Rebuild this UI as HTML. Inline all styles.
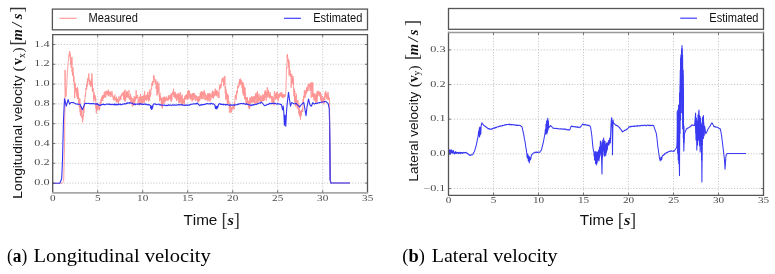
<!DOCTYPE html><html><head><meta charset="utf-8"><style>html,body{margin:0;padding:0;background:#fff;width:775px;height:274px;overflow:hidden}svg{display:block;will-change:transform}text{font-family:"Liberation Sans",sans-serif;font-kerning:none}.sf{font-family:"Liberation Serif",serif}</style></head><body>
<svg width="775" height="274" viewBox="0 0 775 274">
<line x1="97.7" y1="34.7" x2="97.7" y2="192.7" stroke="#b0b0b0" stroke-width="0.8" stroke-dasharray="1 1.8" fill="none"/>
<line x1="142.7" y1="34.7" x2="142.7" y2="192.7" stroke="#b0b0b0" stroke-width="0.8" stroke-dasharray="1 1.8" fill="none"/>
<line x1="187.7" y1="34.7" x2="187.7" y2="192.7" stroke="#b0b0b0" stroke-width="0.8" stroke-dasharray="1 1.8" fill="none"/>
<line x1="232.7" y1="34.7" x2="232.7" y2="192.7" stroke="#b0b0b0" stroke-width="0.8" stroke-dasharray="1 1.8" fill="none"/>
<line x1="277.7" y1="34.7" x2="277.7" y2="192.7" stroke="#b0b0b0" stroke-width="0.8" stroke-dasharray="1 1.8" fill="none"/>
<line x1="322.7" y1="34.7" x2="322.7" y2="192.7" stroke="#b0b0b0" stroke-width="0.8" stroke-dasharray="1 1.8" fill="none"/>
<line x1="52.7" y1="183.07" x2="367.5" y2="183.07" stroke="#b0b0b0" stroke-width="0.8" stroke-dasharray="1 1.8" fill="none"/>
<line x1="52.7" y1="163.27" x2="367.5" y2="163.27" stroke="#b0b0b0" stroke-width="0.8" stroke-dasharray="1 1.8" fill="none"/>
<line x1="52.7" y1="143.47" x2="367.5" y2="143.47" stroke="#b0b0b0" stroke-width="0.8" stroke-dasharray="1 1.8" fill="none"/>
<line x1="52.7" y1="123.67" x2="367.5" y2="123.67" stroke="#b0b0b0" stroke-width="0.8" stroke-dasharray="1 1.8" fill="none"/>
<line x1="52.7" y1="103.87" x2="367.5" y2="103.87" stroke="#b0b0b0" stroke-width="0.8" stroke-dasharray="1 1.8" fill="none"/>
<line x1="52.7" y1="84.07" x2="367.5" y2="84.07" stroke="#b0b0b0" stroke-width="0.8" stroke-dasharray="1 1.8" fill="none"/>
<line x1="52.7" y1="64.27" x2="367.5" y2="64.27" stroke="#b0b0b0" stroke-width="0.8" stroke-dasharray="1 1.8" fill="none"/>
<line x1="52.7" y1="44.47" x2="367.5" y2="44.47" stroke="#b0b0b0" stroke-width="0.8" stroke-dasharray="1 1.8" fill="none"/>
<line x1="493.5" y1="32.45" x2="493.5" y2="195.3" stroke="#b0b0b0" stroke-width="0.8" stroke-dasharray="1 1.8" fill="none"/>
<line x1="538.5" y1="32.45" x2="538.5" y2="195.3" stroke="#b0b0b0" stroke-width="0.8" stroke-dasharray="1 1.8" fill="none"/>
<line x1="583.5" y1="32.45" x2="583.5" y2="195.3" stroke="#b0b0b0" stroke-width="0.8" stroke-dasharray="1 1.8" fill="none"/>
<line x1="628.5" y1="32.45" x2="628.5" y2="195.3" stroke="#b0b0b0" stroke-width="0.8" stroke-dasharray="1 1.8" fill="none"/>
<line x1="673.5" y1="32.45" x2="673.5" y2="195.3" stroke="#b0b0b0" stroke-width="0.8" stroke-dasharray="1 1.8" fill="none"/>
<line x1="718.5" y1="32.45" x2="718.5" y2="195.3" stroke="#b0b0b0" stroke-width="0.8" stroke-dasharray="1 1.8" fill="none"/>
<line x1="448.5" y1="188.5" x2="763.5" y2="188.5" stroke="#b0b0b0" stroke-width="0.8" stroke-dasharray="1 1.8" fill="none"/>
<line x1="448.5" y1="153.85" x2="763.5" y2="153.85" stroke="#b0b0b0" stroke-width="0.8" stroke-dasharray="1 1.8" fill="none"/>
<line x1="448.5" y1="119.2" x2="763.5" y2="119.2" stroke="#b0b0b0" stroke-width="0.8" stroke-dasharray="1 1.8" fill="none"/>
<line x1="448.5" y1="84.55" x2="763.5" y2="84.55" stroke="#b0b0b0" stroke-width="0.8" stroke-dasharray="1 1.8" fill="none"/>
<line x1="448.5" y1="49.9" x2="763.5" y2="49.9" stroke="#b0b0b0" stroke-width="0.8" stroke-dasharray="1 1.8" fill="none"/>
<polyline points="52.7,183.3 52.85,183.3 53,183.3 53.15,183.3 53.3,183.3 53.45,183.3 53.6,183.3 53.75,183.3 53.9,183.3 54.05,183.3 54.2,183.3 54.35,183.3 54.5,183.3 54.65,183.3 54.8,183.3 54.95,183.3 55.1,183.3 55.25,183.3 55.4,183.3 55.55,183.3 55.7,183.3 55.85,183.3 56,183.3 56.15,183.3 56.3,183.3 56.45,183.3 56.6,183.3 56.75,183.3 56.9,183.3 57.05,183.3 57.2,183.3 57.35,183.3 57.5,183.3 57.65,183.3 57.8,183.3 57.95,183.3 58.1,183.3 58.25,183.3 58.4,183.3 58.55,183.3 58.7,183.3 58.85,183.3 59,183.3 59.15,183.3 59.3,183.3 59.45,183.3 59.6,183.3 59.75,183.3 59.9,183.3 60.05,183.3 60.2,183.3 60.35,183.3 60.5,183.3 60.65,183.3 60.8,183.3 60.95,183.3 61.1,183.3 61.25,183.3 61.4,183.3 61.55,183.3 61.7,183.3 61.85,183.3 62,183.3 62.15,183.3 62.3,183.3 62.46,183.04 62.61,182.79 62.77,182.53 62.92,182.28 63.08,182.02 63.23,181.77 63.39,181.51 63.54,181.26 63.7,181 63.85,174.17 64,167.33 64.15,160.5 64.3,153.67 64.45,146.83 64.6,140 64.73,126.67 64.87,113.33 65,100 65.05,70 65.2,85 65.35,88 65.5,91 65.65,94 65.8,97 65.97,96.67 66.13,96.33 66.3,96 66.45,92.37 66.6,88.92 66.75,85.56 66.9,82.13 67.05,78.73 67.2,76.96 67.36,71.95 67.51,70.86 67.67,69.24 67.83,65.9 67.99,65.64 68.14,62.85 68.3,61.59 68.44,59.42 68.59,59.22 68.73,56.36 68.88,56.69 69.02,54.45 69.17,55.32 69.31,53.96 69.46,51.18 69.6,52.44 69.75,51.6 69.9,54.28 70.05,56.6 70.2,53.44 70.35,60.35 70.5,56.75 70.64,64.3 70.79,57.8 70.93,61.78 71.07,67.19 71.21,67.78 71.36,66.17 71.5,64.72 71.65,60.21 71.79,65.21 71.94,56.94 72.08,71.57 72.23,68.28 72.37,73.07 72.52,70.12 72.66,75.99 72.81,73.83 72.95,67.23 73.1,75.34 73.25,75.14 73.41,72.74 73.56,74.39 73.72,82.11 73.87,76.33 74.03,79.19 74.18,80.01 74.34,85.72 74.49,82.87 74.65,98.1 74.8,92.98 74.95,89.54 75.11,84.28 75.26,84.21 75.42,82.89 75.57,89.94 75.73,89.5 75.88,88.23 76.04,92.57 76.19,89.47 76.35,89.2 76.5,93.76 76.65,88.27 76.79,89.2 76.94,96.47 77.08,93.45 77.23,93.72 77.38,98.85 77.52,87.13 77.67,94.15 77.82,88.72 77.96,98.49 78.11,95.44 78.25,97.5 78.4,93.41 78.55,96.81 78.69,99.45 78.84,104.81 78.98,97.87 79.13,106.73 79.27,100.79 79.42,103.93 79.56,103.45 79.71,107.91 79.85,98.55 80,110 80.15,112.41 80.31,104.89 80.46,115.7 80.62,106 80.77,112.33 80.93,106.32 81.08,109.64 81.24,112.92 81.39,110.58 81.55,117.6 81.7,110.99 81.86,108.42 82.01,115.96 82.17,117.23 82.33,116.23 82.49,122.23 82.64,122.32 82.8,117.84 82.95,119.4 83.09,114.18 83.24,115.83 83.39,116.75 83.53,113.35 83.68,105.63 83.83,113.21 83.97,109 84.12,106.54 84.27,107.15 84.41,100.18 84.56,102.59 84.71,100.94 84.85,99.27 85,98.42 85.15,96.14 85.3,94.81 85.45,96.39 85.6,92.91 85.75,93.54 85.9,88.17 86.05,89.02 86.2,89.6 86.35,89.77 86.5,84.86 86.65,89.2 86.8,84.16 86.95,86.82 87.1,83.4 87.25,81.33 87.4,82.67 87.55,81.66 87.7,84.9 87.85,78.25 88,81.35 88.15,79.1 88.3,80.41 88.45,77.03 88.6,75.18 88.75,73.49 88.9,74.37 89.05,77.78 89.2,79.93 89.35,79.86 89.5,81.23 89.65,82.89 89.8,84.99 89.95,80.41 90.1,80.7 90.25,82.74 90.4,81.26 90.56,85.3 90.71,86.95 90.87,84.45 91.03,85.91 91.19,81.19 91.34,78.17 91.5,78.08 91.65,79.86 91.79,85.16 91.94,73.41 92.09,83.61 92.23,88 92.38,91.12 92.53,82.92 92.67,87.76 92.82,90.74 92.97,92.22 93.11,88.01 93.26,92.73 93.41,92.69 93.55,96.38 93.7,94.56 93.85,101.49 93.99,94.09 94.14,92.44 94.29,96.71 94.43,99.17 94.58,94.95 94.73,98.66 94.87,97.48 95.02,96.55 95.17,95.48 95.31,97.72 95.46,97.1 95.61,100.61 95.75,97.96 95.9,108.37 96.05,105.02 96.2,108.2 96.35,113.26 96.5,103.72 96.65,105.18 96.8,108.46 96.95,109.4 97.1,106.56 97.25,103.07 97.4,110.14 97.55,108.67 97.7,105.19 97.85,108.07 98,108.17 98.16,106.01 98.31,107.99 98.47,105.59 98.62,109.08 98.78,106.01 98.93,105.86 99.09,110.45 99.24,108.6 99.4,109.54 99.55,107.77 99.69,109.03 99.84,103.84 99.99,103.95 100.13,102.17 100.28,101.89 100.43,105.43 100.57,103.89 100.72,104.9 100.87,103.86 101.01,99.31 101.16,102.25 101.31,102.4 101.45,98.13 101.6,99.43 101.75,100.25 101.89,100.56 102.04,96.72 102.19,98.54 102.33,95.86 102.48,100.82 102.63,97.94 102.77,100.9 102.92,94.99 103.07,98.5 103.21,97.17 103.36,95.24 103.51,97.94 103.65,97.5 103.8,95.32 103.95,96.81 104.09,95.24 104.24,92.25 104.39,95.56 104.53,96.99 104.68,94.42 104.83,97.19 104.97,97.73 105.12,91.15 105.27,91.73 105.41,93.07 105.56,93.28 105.71,97.54 105.85,94.07 106,94.03 106.15,91.89 106.3,93.79 106.45,92.65 106.6,92.8 106.75,90.68 106.9,93.79 107.05,95.18 107.2,95.32 107.35,91.5 107.5,92.71 107.65,93.03 107.8,91.21 107.95,94.22 108.1,94.47 108.26,91.88 108.41,89.72 108.57,96.2 108.72,91.74 108.88,92.82 109.03,93.53 109.19,93.64 109.34,94.63 109.5,92.37 109.65,94.01 109.81,91.45 109.96,95.09 110.11,96.59 110.27,92.56 110.42,91.87 110.57,93.75 110.73,94.71 110.88,96.92 111.03,94.32 111.19,94.98 111.34,94.06 111.49,94.01 111.65,92.76 111.8,93.2 111.95,91.11 112.1,95.37 112.25,93.85 112.4,95.46 112.55,97.07 112.7,96.64 112.85,95.63 113,96.89 113.15,96.43 113.3,100.02 113.45,97.72 113.6,99.38 113.75,97.68 113.9,97.34 114.05,100.52 114.2,97.81 114.35,98.67 114.5,98.12 114.65,95.58 114.8,94.67 114.95,95.2 115.1,98.72 115.25,100 115.4,99.13 115.55,100.3 115.7,100.15 115.85,98.09 116,100.13 116.15,100.74 116.29,101.97 116.44,96.81 116.59,98.73 116.73,100.08 116.88,102.29 117.03,100.66 117.17,101.69 117.32,98.45 117.47,100.6 117.61,101.32 117.76,100.11 117.91,100.91 118.05,100.89 118.2,102.53 118.35,101.05 118.5,104 118.65,101.9 118.8,98.41 118.96,96.24 119.11,101.15 119.27,99.39 119.42,99.39 119.58,99.57 119.73,99.07 119.89,100.36 120.04,99.34 120.2,97.02 120.35,97.89 120.5,98.8 120.65,95.73 120.8,99.85 120.95,98.02 121.1,97.01 121.25,95.91 121.4,94.46 121.55,96.04 121.7,94.01 121.85,93.8 122,94.28 122.15,94.19 122.3,93.02 122.45,93.53 122.6,92.66 122.75,95.49 122.9,94.2 123.05,95.04 123.2,93.19 123.35,96.6 123.5,92.11 123.66,99.66 123.81,96.03 123.97,95.15 124.13,94.23 124.29,90.83 124.44,98.09 124.6,93.89 124.75,100.9 124.9,92.4 125.05,89.8 125.2,101.62 125.34,98 125.49,95.33 125.64,95.48 125.79,99.41 125.94,95.8 126.09,93.81 126.24,95.44 126.39,91.28 126.53,94.18 126.68,96.96 126.83,94.52 126.98,91.17 127.13,97.52 127.28,93.68 127.43,92.23 127.58,96.06 127.73,96.5 127.87,93.69 128.02,96.7 128.17,93.72 128.32,97.53 128.47,96.4 128.62,96.85 128.77,96.82 128.92,90.13 129.07,98.61 129.21,99.41 129.36,97.58 129.51,96.83 129.66,98.15 129.81,96.34 129.96,99.41 130.11,97.68 130.26,98.56 130.4,95.68 130.55,93.85 130.7,101.34 130.85,102.29 131,100.79 131.15,96.67 131.3,102.86 131.45,100.79 131.6,97.99 131.75,102.92 131.9,101.03 132.05,101.76 132.2,104.3 132.35,106.44 132.49,101.69 132.64,104.25 132.79,98.14 132.94,104.32 133.08,100.13 133.23,102.25 133.38,105.39 133.53,100.64 133.67,99.37 133.82,100.47 133.97,102.1 134.12,100.65 134.26,96.2 134.41,100.59 134.56,102.5 134.71,104.72 134.85,100.63 135,97.57 135.14,101.1 135.29,97.9 135.43,99.04 135.57,99.37 135.71,97.11 135.86,97.61 136,95.27 136.15,90.4 136.3,98.31 136.45,96.76 136.6,95.58 136.75,98.71 136.9,97.61 137.05,97 137.2,97.32 137.35,95.74 137.51,96.08 137.66,95.15 137.81,97.66 137.96,99.03 138.11,104.72 138.26,100.24 138.41,100.12 138.56,100.48 138.71,99.5 138.86,99.09 139.01,98.8 139.16,96.96 139.31,105.5 139.46,97.91 139.61,100.99 139.76,97.43 139.91,100.71 140.06,99 140.22,96.32 140.37,97.86 140.52,93.94 140.67,97.42 140.82,103.53 140.97,95.96 141.12,99.72 141.27,96.97 141.42,105.02 141.57,100.19 141.72,98.56 141.87,98.96 142.02,103.1 142.17,98.53 142.32,101.81 142.47,100.5 142.62,95.92 142.77,96.31 142.92,96.34 143.08,99.81 143.23,103.09 143.38,96.24 143.53,100.01 143.68,96.82 143.83,96.78 143.98,94.72 144.13,99.77 144.28,96.13 144.43,102.49 144.58,91.11 144.73,95.96 144.88,95.92 145.03,97.33 145.18,96.71 145.33,100.03 145.48,96.64 145.63,99.19 145.78,95.6 145.94,96.29 146.09,99.48 146.24,94.67 146.39,100.79 146.54,99.07 146.69,99.08 146.84,98.3 146.99,98.01 147.14,100.04 147.29,97.81 147.44,96.63 147.59,92.19 147.74,93.81 147.89,98.31 148.04,94.87 148.19,99.56 148.34,98.61 148.49,101.32 148.65,98.15 148.8,95.11 148.95,95.89 149.1,96.65 149.25,90.95 149.4,96.15 149.55,100.56 149.7,98.81 149.85,89.36 150,95.97 150.15,96.68 150.3,93.86 150.45,95.32 150.6,92.53 150.75,94.53 150.89,91.31 151.04,90.55 151.18,90.12 151.33,88.82 151.47,88.04 151.62,89.2 151.76,84.52 151.91,84.98 152.05,83.07 152.2,85.07 152.35,83.15 152.51,81.41 152.66,85.86 152.82,83.06 152.97,80.97 153.13,81.16 153.28,82.45 153.44,82.33 153.59,75.48 153.75,77.57 153.9,77.97 154.05,75.62 154.19,77.6 154.34,79.51 154.48,78.62 154.63,80.33 154.77,82.08 154.92,81.8 155.06,81.85 155.21,81.45 155.35,83.98 155.5,80.81 155.66,81.56 155.82,79.46 155.98,82.4 156.14,89 156.3,86.95 156.45,82.66 156.61,85.04 156.76,88.38 156.92,95.33 157.07,92.81 157.23,87.95 157.38,85.57 157.54,94.85 157.69,81.33 157.85,87.98 158,92.78 158.15,86.93 158.29,92.07 158.44,87.92 158.58,88.18 158.73,91.62 158.87,83.42 159.02,91.88 159.16,95.65 159.31,97.01 159.45,94.44 159.6,101.27 159.75,95.62 159.91,92.67 160.06,93.87 160.22,96.93 160.37,95.98 160.53,99.73 160.68,99.94 160.84,100.27 160.99,97.6 161.15,99.48 161.3,105.92 161.45,97.63 161.6,102.84 161.75,101.44 161.9,106.85 162.05,106.35 162.2,100.83 162.35,108.55 162.5,99.3 162.65,100.78 162.8,102.97 162.95,97.97 163.1,100.43 163.25,96.95 163.4,103.82 163.55,101.47 163.7,100.34 163.85,99.33 163.99,103.58 164.14,97.43 164.29,96.49 164.44,101.69 164.58,97.71 164.73,97.76 164.88,97.42 165.02,97.45 165.17,102.13 165.32,97.46 165.46,100.54 165.61,99.01 165.76,98.95 165.91,99.83 166.05,97.95 166.2,100.14 166.35,98.84 166.5,97.67 166.66,96.87 166.81,96.53 166.96,100.65 167.11,99.59 167.26,100.35 167.41,97.99 167.57,99.51 167.72,98.45 167.87,99.96 168.02,98.38 168.17,100.64 168.33,99.94 168.48,96.33 168.63,99.08 168.78,95.34 168.93,98.69 169.09,97.01 169.24,97.83 169.39,95.5 169.54,96.76 169.69,98.39 169.84,96.99 170,96.61 170.15,99.69 170.3,97.8 170.44,95.3 170.58,100.17 170.72,97.96 170.86,98.37 171,93.69 171.15,101.97 171.3,101.42 171.45,95.64 171.6,94.24 171.75,94.25 171.9,100.01 172.05,92.99 172.2,93.6 172.35,94.76 172.51,93.8 172.66,91.7 172.81,93.97 172.96,92.26 173.11,92.99 173.26,94.84 173.41,92.26 173.56,88.7 173.71,92.41 173.86,97.05 174.01,95.71 174.16,95.53 174.31,94.9 174.46,91.85 174.61,97.6 174.76,91.98 174.91,95.65 175.06,94.58 175.22,92.81 175.37,92.27 175.52,98.22 175.67,94.26 175.82,96.14 175.97,95.58 176.12,99.17 176.27,95.93 176.42,96.23 176.57,95.15 176.72,101.08 176.87,94.81 177.02,96.3 177.17,93.65 177.32,99.38 177.47,96.07 177.62,97.82 177.77,96.18 177.92,95.55 178.08,94.49 178.23,98.83 178.38,93.23 178.53,98.96 178.68,99.15 178.83,102.88 178.98,99.32 179.13,98.03 179.28,101.27 179.43,101.69 179.58,102.31 179.73,94.04 179.88,99.1 180.03,102.82 180.18,92.05 180.33,99.63 180.48,99.15 180.63,96.3 180.78,97.74 180.94,99.8 181.09,99.57 181.24,104.4 181.39,97.92 181.54,100.75 181.69,96.58 181.84,98.28 181.99,102.39 182.14,94.45 182.29,102.14 182.44,100.85 182.59,105.25 182.74,99.22 182.89,102.58 183.04,101.77 183.19,100.35 183.34,103.37 183.49,102.69 183.65,99.77 183.8,102.31 183.95,98.26 184.1,98.32 184.25,98.2 184.4,104.63 184.55,99.78 184.7,97.72 184.85,99.09 185,95.89 185.14,98.85 185.29,98.02 185.43,95.33 185.57,98.76 185.71,98.97 185.86,95.94 186,99.71 186.15,96.33 186.3,98.25 186.45,94.19 186.6,96.6 186.75,95.76 186.9,95.1 187.05,96.58 187.2,94.94 187.35,97.7 187.5,96.89 187.65,100.02 187.8,91.28 187.95,97.75 188.1,97.11 188.25,97.38 188.4,90.07 188.55,94.99 188.7,95.94 188.85,98.99 189,97.43 189.15,97.08 189.3,96.24 189.45,90.7 189.6,94.99 189.75,95.57 189.9,93.25 190.05,97.75 190.2,96.65 190.35,97.68 190.5,99.39 190.65,94.82 190.8,98.21 190.95,96.48 191.1,93.75 191.25,97.27 191.4,98.82 191.55,95.57 191.7,99.25 191.85,95.59 192,100.65 192.15,101.56 192.3,99.64 192.45,93.28 192.6,100.3 192.75,98.52 192.9,98.16 193.05,99.63 193.2,95.76 193.35,94.58 193.5,95.11 193.65,92.92 193.8,96.62 193.95,95.54 194.1,100.04 194.25,93.23 194.4,97.12 194.55,97.58 194.7,97.97 194.85,96.18 195,97.5 195.14,94.85 195.29,96.09 195.43,97.24 195.57,97.28 195.71,101 195.86,98.49 196,95.54 196.15,95.69 196.3,96.31 196.44,97.59 196.59,96.37 196.74,99.93 196.89,98.78 197.04,97.64 197.19,96.65 197.33,97.63 197.48,101.78 197.63,99.7 197.78,100.09 197.93,100.07 198.07,100.31 198.22,96.31 198.37,98.45 198.52,98.42 198.67,102.27 198.81,98.04 198.96,99.53 199.11,100.81 199.26,98.79 199.41,97.75 199.56,100.8 199.7,95.92 199.85,100.05 200,98.53 200.14,95.19 200.29,92.82 200.43,96 200.57,93.82 200.71,96.62 200.86,92.31 201,94.94 201.15,98.91 201.3,91.43 201.45,93.41 201.6,98.75 201.75,91.78 201.9,94.9 202.05,92.93 202.2,99.18 202.35,93.91 202.51,92.58 202.66,92.52 202.81,95.43 202.96,91.63 203.11,93.25 203.26,92.5 203.41,92.71 203.56,91.96 203.71,99.04 203.86,92.15 204.01,94.35 204.16,90.24 204.31,94.54 204.46,91.87 204.61,91.76 204.76,97.49 204.91,99.91 205.06,100.22 205.22,93.33 205.37,94.79 205.52,95.28 205.67,95.06 205.82,100.27 205.97,99.91 206.12,99.23 206.27,95.5 206.42,96.55 206.57,98.38 206.72,98.93 206.87,97.96 207.02,95.15 207.17,95.99 207.32,100.01 207.47,94.08 207.62,93.34 207.77,101.41 207.92,96.97 208.08,95.27 208.23,98.44 208.38,98.58 208.53,93.5 208.68,100.4 208.83,94.74 208.98,94.35 209.13,96.84 209.28,95.95 209.43,95.9 209.58,92.98 209.73,98.9 209.88,101.71 210.03,96.33 210.18,94.1 210.33,95.7 210.48,96.59 210.63,93.96 210.78,100.11 210.94,97.17 211.09,96.83 211.24,96.53 211.39,97.16 211.54,95.76 211.69,94.84 211.84,96.67 211.99,92.36 212.14,93.67 212.29,93.02 212.44,97.87 212.59,90.52 212.74,97.36 212.89,91.17 213.04,95.15 213.19,93.59 213.34,98.6 213.49,98.31 213.65,94.96 213.8,92.51 213.95,94.03 214.1,95.75 214.25,95.39 214.4,91.54 214.55,93.58 214.7,96.26 214.85,93.02 215,92.57 215.14,94.51 215.29,88.62 215.43,92.29 215.57,91.44 215.71,95.26 215.86,90.3 216,92.76 216.15,93.49 216.3,91.44 216.45,96.18 216.6,95.43 216.75,90 216.9,93.12 217.05,94.52 217.2,92.91 217.35,91.41 217.5,92.66 217.65,92.55 217.8,94.6 217.95,97.67 218.1,97.49 218.25,94.74 218.4,95.68 218.55,92.39 218.7,93.75 218.85,95.04 219,97.81 219.15,90.81 219.3,89.21 219.45,86.5 219.6,89.41 219.75,87.26 219.9,85.75 220.05,88.47 220.2,84.19 220.35,86.21 220.5,84.36 220.65,84.9 220.8,88.25 220.95,84.72 221.1,85.79 221.25,85.35 221.4,85.01 221.55,82.75 221.7,80.34 221.85,80.6 222,79.23 222.15,79.53 222.3,78.56 222.45,79.85 222.6,77.82 222.75,80.24 222.9,81.74 223.05,79.23 223.2,80.59 223.35,82.46 223.5,83.85 223.65,86.07 223.8,78.47 223.95,77.18 224.1,82.68 224.25,83.27 224.4,82.47 224.55,84.77 224.7,84.34 224.85,75.89 225,87.87 225.15,87.47 225.29,93.64 225.44,90.46 225.58,86.6 225.73,99.83 225.88,89.02 226.02,93.52 226.17,93.74 226.32,94.34 226.46,91.58 226.61,98.28 226.75,98.31 226.9,94.24 227.05,96.94 227.2,100.53 227.35,103.8 227.5,93.76 227.65,104.77 227.8,103.49 227.95,100.28 228.1,102.78 228.25,95.19 228.4,98.93 228.55,99.27 228.7,103.7 228.85,101 229,103.54 229.15,106.53 229.3,109.27 229.45,112.53 229.6,110.89 229.75,110.89 229.9,105.91 230.05,107.8 230.2,103.47 230.35,107.61 230.5,106.95 230.65,106.81 230.79,110.12 230.94,112.89 231.08,108.49 231.23,109.9 231.38,111.84 231.52,107.09 231.67,107.68 231.82,108.24 231.96,109.94 232.11,108.61 232.25,107.2 232.4,108.88 232.55,107.04 232.7,108.17 232.85,106.2 233,108.43 233.15,108.41 233.3,106.8 233.45,107.43 233.6,107.59 233.75,106.85 233.9,105.35 234.05,109.52 234.2,105.92 234.35,104.06 234.5,102.36 234.65,105.61 234.8,100.73 234.95,99.99 235.1,96.61 235.25,96.85 235.4,96.14 235.55,95.11 235.7,94.76 235.85,97.66 236,95.3 236.15,99.72 236.29,95.08 236.44,93.81 236.59,91.17 236.74,94.54 236.88,93.47 237.03,90.79 237.18,91.72 237.33,92.93 237.47,89.94 237.62,86.28 237.77,86.18 237.92,85.43 238.06,85.62 238.21,88.16 238.36,87.15 238.51,87.23 238.65,85.51 238.8,86.56 238.95,85.3 239.1,81.82 239.25,83.66 239.4,84.17 239.55,79.05 239.7,85.2 239.85,84.02 240,83.77 240.15,81.98 240.3,81.72 240.45,79.97 240.6,78.68 240.75,81.76 240.9,84.85 241.05,80.11 241.2,82.5 241.35,83.93 241.5,80.96 241.65,80.65 241.8,83.26 241.95,84.64 242.1,88.17 242.25,82.23 242.4,84.42 242.55,90.83 242.7,91.41 242.85,92.78 243,82.33 243.15,93.85 243.3,88.98 243.45,95.46 243.61,84.15 243.76,84.88 243.92,88.65 244.07,95.03 244.23,86.88 244.38,95.19 244.54,99.15 244.69,91.23 244.85,90.89 245,87.75 245.14,95.24 245.29,92.17 245.43,98.6 245.57,95.58 245.71,99.68 245.86,98.85 246,104.21 246.15,100.61 246.3,97.56 246.45,99.49 246.6,98.41 246.75,101.34 246.9,98.8 247.05,100.55 247.2,98.55 247.35,103.14 247.5,97.1 247.65,103.23 247.8,100.68 247.95,103.46 248.1,102.43 248.25,103.08 248.4,107.56 248.55,100.86 248.7,103.04 248.85,102.8 249,100.86 249.15,101.82 249.3,109.22 249.45,103.26 249.6,101.7 249.75,108.15 249.9,97.63 250.05,104.34 250.2,97.98 250.35,102.46 250.5,102.48 250.65,101.73 250.8,103.12 250.95,97.56 251.1,100.98 251.25,100.46 251.4,101.89 251.55,98.27 251.7,96.06 251.85,98.49 252,102.92 252.15,99.33 252.3,101.31 252.45,98.12 252.6,99.53 252.75,96.74 252.9,101.79 253.05,100.08 253.2,97.73 253.35,99.64 253.5,99.3 253.65,102.34 253.8,96.57 253.95,102.04 254.1,102.38 254.25,95.9 254.4,96.72 254.55,99.93 254.7,104.28 254.85,97.38 255,103.53 255.14,100.55 255.29,97.14 255.43,97.88 255.57,93.49 255.71,96.06 255.86,98.44 256,93.5 256.15,94.62 256.3,94.16 256.45,98.45 256.6,99.7 256.75,103.41 256.9,94.37 257.05,97.68 257.2,91.91 257.35,95.11 257.5,91.09 257.65,104.14 257.8,98.63 257.95,103.15 258.1,95.67 258.25,97.03 258.4,99.91 258.55,97.31 258.7,99.13 258.85,98.56 259,93.69 259.15,101.15 259.3,100.4 259.45,101.14 259.6,100.55 259.75,97.52 259.9,99.84 260.05,98.81 260.2,96.6 260.35,102.09 260.5,102.46 260.65,99.86 260.8,101.95 260.95,95.35 261.1,97.94 261.25,98.22 261.4,97.49 261.55,101.65 261.7,99.96 261.85,96.31 262,98.72 262.15,99.59 262.3,101.32 262.45,99.05 262.6,100.1 262.75,97.28 262.9,94.39 263.05,100.89 263.2,98.11 263.35,95.34 263.5,101.09 263.65,96.37 263.8,101.13 263.95,94.78 264.1,95.2 264.25,99.45 264.4,95.45 264.55,99.84 264.7,92.09 264.85,94.78 265,90.81 265.15,90.3 265.3,90.94 265.45,94.1 265.6,95.66 265.75,97.46 265.9,91.47 266.05,94.65 266.2,100.7 266.35,93.18 266.5,94.52 266.65,92.65 266.8,95.32 266.95,91.74 267.1,97.95 267.25,87.29 267.4,91.29 267.55,92.05 267.7,94.28 267.85,94.42 268,96.04 268.15,90.04 268.3,90.1 268.45,94.77 268.6,90.72 268.75,94.44 268.9,97.33 269.05,95.7 269.2,94.56 269.35,94.58 269.5,98.27 269.65,98.19 269.8,96.91 269.95,91.94 270.1,97.61 270.25,94.57 270.4,98.07 270.55,94.45 270.7,98.08 270.85,96.83 271,96.38 271.15,98.74 271.3,98.87 271.45,98.61 271.6,98.1 271.75,95.88 271.9,102.58 272.05,98.73 272.2,100.79 272.35,98.01 272.5,99.41 272.65,101.03 272.8,96.41 272.95,102.94 273.1,97.55 273.25,103.09 273.4,99.23 273.55,101.66 273.7,98.47 273.85,102.82 274,105.37 274.17,94.59 274.33,93.24 274.5,91 274.67,92.44 274.83,94.45 275,97.73 275.15,94.24 275.29,95.95 275.44,99.98 275.59,93.65 275.74,98.12 275.88,98.89 276.03,95.08 276.18,93.45 276.33,92.39 276.47,96.02 276.62,99.05 276.77,93.9 276.92,95.36 277.06,94.24 277.21,95.07 277.36,92.04 277.51,98.2 277.65,96.86 277.8,96.3 277.95,95.86 278.1,101.44 278.26,94.28 278.41,98.17 278.56,99.24 278.71,96.84 278.87,94.61 279.02,95.07 279.17,97.93 279.32,93.48 279.48,95.04 279.63,93.64 279.78,96.64 279.93,96.46 280.09,95.63 280.24,96.11 280.39,92.8 280.54,95.62 280.7,93.31 280.85,94.79 281,96.22 281.15,93.6 281.29,92.21 281.44,94.86 281.59,96.98 281.74,92.2 281.88,93.4 282.03,97.1 282.18,95.39 282.33,94.14 282.47,96.08 282.62,96.67 282.77,98.12 282.92,97.15 283.06,98.08 283.21,97.28 283.36,94.13 283.51,95.78 283.65,95.94 283.8,94.24 283.95,96.89 284.09,95.61 284.24,94.42 284.38,97.29 284.53,95.49 284.68,94.96 284.82,95.71 284.97,96.08 285.12,96.45 285.26,95.87 285.41,95.14 285.55,96.27 285.7,94.51 285.86,90.6 286.02,85.87 286.18,80.37 286.34,75.37 286.5,69.98 286.64,67.15 286.78,68.7 286.92,63.06 287.06,61.72 287.2,55.12 287.35,57.97 287.5,53.99 287.65,58.96 287.8,61.85 287.95,61.21 288.1,58.71 288.25,59.16 288.4,67.11 288.55,59.93 288.7,59.48 288.85,66.45 289,61.26 289.15,75.41 289.31,65.8 289.46,74.72 289.62,72.04 289.77,71.37 289.92,74.52 290.08,70.14 290.23,76.69 290.38,75.19 290.54,74.48 290.69,76.86 290.85,74.22 291,77.41 291.15,87.72 291.31,81.38 291.46,77.86 291.61,76.17 291.77,73.84 291.92,80.86 292.07,84.22 292.23,79.92 292.38,79.24 292.53,76.38 292.69,78.5 292.84,83.04 292.99,76.17 293.15,84.17 293.3,79.28 293.45,82.54 293.59,92.82 293.74,93.19 293.89,94.21 294.03,96.11 294.18,89.25 294.33,88.75 294.47,94.82 294.62,100.81 294.77,90.93 294.91,100.27 295.06,103.46 295.21,97.34 295.35,100 295.5,96.62 295.65,106.47 295.81,96.29 295.96,101.76 296.12,101.15 296.27,93.69 296.42,106.07 296.58,104.76 296.73,103.22 296.88,100.83 297.04,104.32 297.19,108.42 297.35,108.8 297.5,105.35 297.65,106.57 297.8,100.01 297.95,105.7 298.1,102.73 298.25,108.97 298.4,106.07 298.55,105.81 298.7,108.54 298.85,113.54 299,104.96 299.15,111.81 299.3,115.45 299.45,109.95 299.6,111.7 299.75,113.64 299.9,113.1 300.05,117.17 300.2,114.23 300.35,114.89 300.5,119.6 300.65,110.95 300.8,114.67 300.95,110.86 301.1,113.96 301.25,110.86 301.4,113.22 301.55,115.71 301.7,111.6 301.85,109.84 302,111.68 302.15,110.35 302.3,111.8 302.45,107.82 302.6,110.22 302.75,111.6 302.9,106.88 303.05,98.95 303.2,102.34 303.35,100.95 303.5,101.88 303.65,95.9 303.8,97.73 303.95,98.57 304.1,95.89 304.25,94.83 304.39,90.09 304.54,93.47 304.68,96.84 304.83,96.15 304.98,94.86 305.12,97.6 305.27,94.52 305.42,92.17 305.56,93.66 305.71,94.96 305.85,90.2 306,91.32 306.15,92.71 306.3,93.27 306.46,87.79 306.61,93.36 306.76,90.4 306.91,87.35 307.07,90.61 307.22,90.11 307.37,89.93 307.52,91.43 307.68,89.28 307.83,88.14 307.98,86.09 308.13,90.71 308.29,83.98 308.44,86.22 308.59,87.1 308.74,87.24 308.9,85.88 309.05,83.52 309.2,83.95 309.35,85.12 309.49,84.25 309.64,86.14 309.79,86.14 309.93,88 310.08,90.76 310.23,83.86 310.37,88.37 310.52,82.93 310.67,90.74 310.81,83.86 310.96,82.45 311.11,97.71 311.25,91.69 311.4,88.24 311.55,83.98 311.7,87.51 311.85,86.26 312,89.2 312.15,81.99 312.3,89.59 312.45,96.88 312.6,92.12 312.75,85.98 312.9,83.14 313.05,92.12 313.2,96.82 313.36,92.81 313.52,94.57 313.68,95.03 313.84,98.03 314,96.32 314.15,100.81 314.3,93.46 314.45,100 314.6,98.09 314.75,95 314.9,99.53 315.05,97.27 315.2,97.8 315.35,99.01 315.49,96.36 315.64,94.61 315.79,103.03 315.94,93.69 316.09,99.57 316.24,95.83 316.39,100.68 316.54,95.08 316.69,101.29 316.84,97.5 316.99,102.28 317.14,91.31 317.29,96.55 317.44,91.63 317.59,97.21 317.74,93.89 317.89,93.21 318.04,94.22 318.19,90.77 318.34,93.79 318.48,92.36 318.63,91.98 318.78,91.87 318.93,95.59 319.08,93.86 319.23,95.38 319.38,94.26 319.53,91.71 319.68,93.8 319.83,94.17 319.98,96.76 320.13,95.07 320.28,91.98 320.43,94.21 320.58,99.85 320.73,93.48 320.88,99.56 321.03,94.73 321.18,101.08 321.33,97.17 321.47,97.75 321.62,98.92 321.77,103.21 321.92,95.71 322.07,98.67 322.22,99.22 322.37,101.71 322.52,99.7 322.67,99.69 322.82,98.81 322.97,96.87 323.12,97.32 323.27,101.49 323.42,98.18 323.57,101.04 323.72,101.8 323.87,104.26 324.02,102.76 324.17,102.55 324.32,102.17 324.46,100.38 324.61,96.21 324.76,100.07 324.91,98.73 325.06,92.49 325.21,95.7 325.36,96.51 325.51,92.83 325.66,90.95 325.81,93.07 325.96,96.9 326.11,94.02 326.26,96.41 326.41,94.48 326.56,96.01 326.71,98.68 326.86,92.72 327.01,93.69 327.16,94.91 327.31,96.55 327.45,96.87 327.6,96.36 327.75,97.05 327.9,99.67 328.05,91.98 328.2,99.64 328.35,95.22 328.5,96.01 328.65,100.02 328.8,97.73 328.94,97.73 329.08,97.64 329.22,98.08 329.36,97.81 329.5,99 329.65,119.5 329.8,140 329.93,153.33 330.07,166.67 330.2,180 330.34,180.6 330.48,181.2 330.62,181.8 330.76,182.4 330.9,183 331.05,183 331.2,183 331.35,183 331.5,183 331.65,183 331.8,183 331.95,183 332.1,183 332.25,183 332.4,183 332.55,183 332.7,183 332.84,183 332.99,183 333.14,183 333.29,183 333.44,183 333.59,183 333.74,183 333.89,183 334.04,183 334.19,183 334.34,183 334.49,183 334.64,183 334.79,183 334.94,183 335.09,183 335.24,183 335.39,183 335.54,183 335.69,183 335.84,183 335.99,183 336.14,183 336.29,183 336.44,183 336.59,183 336.73,183 336.88,183 337.03,183 337.18,183 337.33,183 337.48,183 337.63,183 337.78,183 337.93,183 338.08,183 338.23,183 338.38,183 338.53,183 338.68,183 338.83,183 338.98,183 339.13,183 339.28,183 339.43,183 339.58,183 339.73,183 339.88,183 340.03,183 340.18,183 340.33,183 340.47,183 340.62,183 340.77,183 340.92,183 341.07,183 341.22,183 341.37,183 341.52,183 341.67,183 341.82,183 341.97,183 342.12,183 342.27,183 342.42,183 342.57,183 342.72,183 342.87,183 343.02,183 343.17,183 343.32,183 343.47,183 343.62,183 343.77,183 343.92,183 344.07,183 344.21,183 344.36,183 344.51,183 344.66,183 344.81,183 344.96,183 345.11,183 345.26,183 345.41,183 345.56,183 345.71,183 345.86,183 346.01,183 346.16,183 346.31,183 346.46,183 346.61,183 346.76,183 346.91,183 347.06,183 347.21,183 347.36,183 347.51,183 347.66,183 347.81,183 347.96,183 348.1,183 348.25,183 348.4,183 348.55,183 348.7,183 348.85,183 349,183 349.15,183 349.3,183 349.45,183 349.6,183 349.75,183 349.9,183" fill="none" stroke="#ff9494" stroke-width="0.9" stroke-linejoin="round"/>
<polyline points="52.7,183.3 53.2,183.3 53.7,183.3 54.2,183.3 54.7,183.3 55.2,183.3 55.7,183.3 56.2,183.3 56.7,183.3 57.2,183.3 57.7,183.3 58.2,183.3 58.7,183.3 59.2,183.3 59.7,183.3 60.2,182.18 60.7,181.05 61.2,179.93 61.7,178.8 62.1,169.4 62.5,160 63,140 63.5,120 64,109.35 64.5,98.7 64.95,100.53 65.4,102.35 65.85,104.17 66.3,106 66.75,104.4 67.2,102.8 67.65,101.2 68.1,99.6 68.6,101.13 69.1,102.67 69.6,104.2 70.07,103.63 70.53,103.07 71,102.5 71.55,102.47 72.1,102.45 72.65,102.43 73.2,102.4 73.67,102.67 74.13,102.93 74.6,103.2 75.07,103.47 75.53,103.73 76,104 76.5,104.04 77,104.08 77.5,104.11 78,104.15 78.5,104.19 79,104.22 79.5,104.26 80,104.3 80.48,105.38 80.96,106.46 81.44,107.54 81.92,108.62 82.4,109.7 82.92,108.42 83.44,107.14 83.96,105.86 84.48,104.58 85,103.3 85.5,103.33 86,103.38 86.5,103.42 87,103.48 87.5,103.49 88,103.57 88.5,103.38 89,103.52 89.5,103.71 90,103.65 90.5,103.79 91,103.48 91.5,103.66 92,103.58 92.5,103.76 93,103.81 93.5,103.49 94,103.63 94.5,103.7 95,104.2 95.5,104.12 96,103.66 96.5,104.23 97,103.67 97.52,104.43 98.04,104.3 98.56,104.51 99.08,105.61 99.6,105.34 100.08,105.08 100.56,105.51 101.04,105.16 101.52,104.37 102,104.72 102.51,104.34 103.01,104.48 103.52,104.06 104.02,104.73 104.53,104.52 105.04,104.77 105.54,104.72 106.05,104.19 106.55,104.26 107.06,104.09 107.57,104.08 108.07,104.02 108.58,104.24 109.08,104.52 109.59,103.99 110.1,104.61 110.6,104.31 111.11,104.29 111.62,104.76 112.12,104.46 112.63,104.33 113.13,104.48 113.64,104.69 114.15,104.12 114.65,104.95 115.16,104.11 115.66,104.77 116.17,104.86 116.68,104.13 117.18,104.83 117.69,104.46 118.19,104.66 118.7,104.16 119.18,104.14 119.66,104.2 120.15,104.85 120.63,104.11 121.11,104.56 121.59,104.66 122.07,104.62 122.55,104.02 123.04,103.98 123.52,104.08 124,104.25 124.52,103.52 125.04,103.97 125.55,103.89 126.07,103.81 126.59,102.95 127.11,103.64 127.63,102.74 128.15,102.84 128.66,102.95 129.18,103.1 129.7,102.46 130.18,103.17 130.66,103.02 131.13,103 131.61,103.19 132.09,103.25 132.57,103.35 133.04,103.61 133.52,104.28 134,104.75 134.5,103.97 135,103.84 135.5,104.66 136,104.23 136.5,104.09 137,103.91 137.5,104.21 138,104.39 138.5,104.04 139,103.98 139.5,103.63 140,104.37 140.5,103.61 141,104.05 141.5,104.39 142,103.78 142.5,104.35 143,104.57 143.5,104.31 144,104.48 144.5,103.9 145,104.22 145.5,103.99 146,104.64 146.5,104.18 147,104.35 147.5,104.87 148,104.76 148.5,104.9 149,104.46 149.47,104.83 149.93,105.24 150.4,105.5 150.8,108.5 151.1,106 151.4,109.5 151.7,106.5 152,109.3 152.3,106 152.6,108 153.2,104.5 153.6,104.24 154,103.81 154.5,103.97 155,103.79 155.5,104.06 156,104.66 156.5,104.69 157,104.45 157.5,104.39 158,104.3 158.5,104.13 159,104.35 159.5,104.86 160,105 160.5,104.6 161,105.04 161.5,105.08 162,105.06 162.5,105.09 163,105.23 163.5,104.98 164,105.38 164.5,105.1 165,105.39 165.5,105.62 166,105.52 166.5,105.13 167,105.69 167.5,105.4 168,105.31 168.5,104.77 169,105.23 169.5,104.94 170,105.29 170.5,105.07 171,105.37 171.5,105.19 172,105.29 172.5,104.86 173,105.1 173.5,105.16 174,105.22 174.5,104.76 175,105.18 175.5,105.17 176,104.98 176.5,105.22 177,105.17 177.5,104.75 178,104.73 178.5,104.38 179,104.96 179.5,105.02 180,104.58 180.49,104.83 180.99,104.9 181.48,104.97 181.97,104.52 182.47,105.12 182.96,104.99 183.45,105.12 183.95,104.96 184.44,105.19 184.93,105.38 185.43,105.31 185.92,105.44 186.41,104.87 186.91,105.04 187.4,105.35 187.89,105.44 188.38,104.95 188.87,105.27 189.36,105.12 189.85,104.49 190.34,104.77 190.83,104.45 191.32,104.2 191.81,104.17 192.3,104.24 192.79,104.01 193.28,103.92 193.77,103.68 194.26,103.97 194.75,103.79 195.24,103.9 195.73,103.78 196.22,103.36 196.71,103.86 197.2,102.95 197.75,103.81 198.3,104.2 198.85,104.82 199.4,105.05 199.91,105.59 200.41,105.06 200.92,104.65 201.42,105.06 201.93,104.48 202.44,104.77 202.94,104.47 203.45,104.58 203.95,104.81 204.46,104.57 204.96,104.1 205.47,104.34 205.98,104.08 206.48,103.72 206.99,103.4 207.49,103.7 208,103.56 208.5,103.95 209,104 209.5,103.72 210,103.53 210.5,104.06 211,103.3 211.5,103.44 212,103.89 212.5,103.98 213,103.59 213.5,104.07 214,104.35 214.5,104.69 215,105.5 215.4,108.5 215.8,106 216.2,109 216.6,106.5 217,108.8 217.4,106 217.8,107.5 218.5,104.5 219.05,104.17 219.6,103.65 220.1,103.77 220.59,104.45 221.09,103.98 221.58,104.56 222.08,104.58 222.57,104.36 223.07,104.12 223.56,104.83 224.06,104.45 224.55,104.44 225.05,104.42 225.54,105.08 226.04,104.7 226.53,104.57 227.03,104.81 227.52,104.55 228.02,105.06 228.51,104.96 229.01,104.89 229.5,105.39 230,105.49 230.5,104.74 231,105.19 231.5,104.94 232,105.51 232.5,105.35 233,104.85 233.5,104.85 234,104.73 234.5,105.46 235,104.81 235.49,104.98 235.98,104.75 236.48,104.78 236.97,104.63 237.46,104.64 237.95,103.96 238.45,104.43 238.94,103.9 239.43,103.99 239.92,103.7 240.42,103.55 240.91,103.64 241.4,103.47 241.91,103.44 242.42,103.84 242.92,103.77 243.43,103.33 243.94,103.58 244.45,103.83 244.95,104.31 245.46,104.34 245.97,104.09 246.48,103.68 246.98,104.43 247.49,104.17 248,104.37 248.5,104.67 249,104.79 249.5,104.83 250,105.4 250.5,105.11 251,105.3 251.5,105.61 252,104.91 252.5,104.89 253,105.26 253.5,104.46 254,105.04 254.5,104.81 255,104.46 255.5,104.22 256,104.55 256.5,104.51 257,103.66 257.5,103.81 258,103.71 258.5,103.51 259,103.2 259.5,102.88 260,103.11 260.5,103.16 261,102.33 261.5,102.32 262,102.69 262.5,103.27 263,103.81 263.5,104.21 264,105.08 264.5,105.7 265,105.54 265.5,105.38 266,105.15 266.5,104.75 267,104.84 267.5,104.36 268,104.38 268.5,104.4 269,104.06 269.5,103.4 270,103.31 270.5,103.9 271,103.23 271.5,103.67 272,103.52 272.5,103.32 273,103.76 273.5,103.26 274,103.35 274.5,103.62 275,103.36 275.5,103.38 276,103.87 276.5,104.04 277,104.19 277.5,103.55 278,103.84 278.5,103.76 279,104.04 279.5,103.97 280,104.39 280.5,104.19 281,104.4 281.5,104.8 282.05,107.35 282.6,109.9 283.2,106 283.8,112 284.4,125.2 285,115 285.4,120.6 285.8,126.2 286.5,112 286.9,107.3 287.3,102.6 287.9,97.5 288.5,92.4 289,96.05 289.5,99.7 290,102.95 290.5,106.2 291.1,104.4 291.7,102.6 292.17,102.83 292.63,103.07 293.1,103.3 293.6,103.53 294.1,103.77 294.6,104 295.07,103.77 295.53,103.53 296,103.3 296.5,103.8 297,104.3 297.5,104.8 298.05,105.35 298.6,105.9 299.15,106.45 299.7,107 300.2,106.27 300.7,105.53 301.2,104.8 301.67,104.3 302.13,103.8 302.6,103.3 303.2,102.95 303.8,102.6 304.3,105.5 304.8,108.4 305.4,112.05 306,115.7 306.5,111.35 307,107 307.5,104.33 308,101.67 308.5,99 308.97,100.93 309.43,102.87 309.9,104.8 310.4,105.27 310.9,105.73 311.4,106.2 311.87,105 312.33,103.8 312.8,102.6 313.3,103.07 313.8,103.53 314.3,104 314.87,103.86 315.43,103.39 316,103.52 316.49,103.3 316.98,103.53 317.47,103.14 317.96,103.09 318.45,102.74 318.94,102.83 319.43,102.56 319.92,102.74 320.41,102.51 320.9,102.24 321.39,102.19 321.88,102.15 322.37,102.17 322.86,101.91 323.35,101.95 323.84,101.83 324.33,101.64 324.82,101.62 325.31,101.48 325.8,101.4 326.3,101.92 326.8,102.44 327.3,102.96 327.8,103.48 328.3,104 328.85,107 329.4,110 329.9,150 330.2,180 330.9,183 331.4,183 331.9,183 332.4,183 332.9,183 333.4,183 333.9,183 334.4,183 334.9,183 335.4,183 335.9,183 336.4,183 336.9,183 337.4,183 337.9,183 338.4,183 338.9,183 339.4,183 339.9,183 340.4,183 340.9,183 341.4,183 341.9,183 342.4,183 342.9,183 343.4,183 343.9,183 344.4,183 344.9,183 345.4,183 345.9,183 346.4,183 346.9,183 347.4,183 347.9,183 348.4,183 348.9,183 349.4,183 349.9,183" fill="none" stroke="#3434f4" stroke-width="1.1" stroke-linejoin="round"/>
<polyline points="331,183 349.9,183" fill="none" stroke="#8478e2" stroke-width="1.35"/>
<polyline points="329.4,110 329.9,150 330.2,180 330.9,183 331.5,183" fill="none" stroke="#5a48dc" stroke-width="1.15" stroke-linejoin="round"/>
<polyline points="448.5,152.22 448.79,151.73 449.08,150.53 449.38,154.13 449.67,149.8 449.96,152.25 450.25,154.19 450.54,150.07 450.83,152.4 451.12,152.68 451.42,149.77 451.71,151.43 452,153.02 452.29,151.83 452.59,153.16 452.88,150.64 453.18,151.11 453.47,150.69 453.76,152.38 454.06,154.01 454.35,152.8 454.65,153.46 454.94,152.21 455.24,153.4 455.53,151.56 455.82,152.2 456.12,153.26 456.41,153.41 456.71,152.77 457,152.18 457.29,152.55 457.59,152.45 457.88,152.6 458.18,153.55 458.47,152.49 458.76,153.64 459.06,153.6 459.35,152.32 459.65,152.82 459.94,152.99 460.24,152.36 460.53,152.9 460.82,153.5 461.12,152.54 461.41,153.11 461.71,152.6 462,153.08 462.31,153.34 462.62,152.64 462.92,152.44 463.23,152.48 463.54,152.84 463.85,152.38 464.15,152.41 464.46,152.69 464.77,152.96 465.08,152.56 465.38,152.51 465.69,152.63 466,152.26 466.31,152.76 466.62,152.73 466.92,153.21 467.23,153.64 467.54,153.31 467.85,153.83 468.15,154.07 468.46,154.01 468.77,154.3 469.08,154.95 469.38,155.17 469.69,154.86 470,155.42 470.3,155.47 470.6,155.04 470.9,155.14 471.2,154.88 471.5,154.93 471.8,154.93 472.1,154.85 472.4,154.78 472.7,154.7 473.02,154.08 473.33,153.47 473.65,152.85 473.97,152.23 474.28,151.62 474.6,151 474.9,149.95 475.2,148.9 475.5,147.85 475.8,146.8 476.1,145.75 476.4,144.7 476.7,143.17 477,141.63 477.3,140.1 477.6,138.57 477.9,137.03 478.2,135.5 478.6,131 479,136 479.3,128 479.6,137 479.9,127 480.2,135 480.5,128 480.8,134 481.1,126 481.37,124.93 481.63,123.87 481.9,122.8 482.2,123.25 482.5,123.7 482.8,124.15 483.1,124.6 483.4,125.05 483.7,125.5 484,125.61 484.3,125.77 484.6,126.06 484.9,126.13 485.2,126.23 485.5,126.34 485.8,126.96 486.1,126.98 486.4,126.91 486.7,127.65 487,127.63 487.3,127.96 487.6,128.09 487.9,128.5 488.2,128.69 488.51,128.6 488.82,128.97 489.13,128.7 489.44,129.15 489.76,128.74 490.07,129.24 490.38,129.3 490.69,129.15 491,129.33 491.3,128.94 491.6,129.12 491.9,128.82 492.2,128.59 492.5,128.92 492.8,128.47 493.1,128.35 493.4,128.53 493.7,128.12 494.01,128.2 494.31,127.8 494.62,128.11 494.92,127.66 495.23,127.43 495.53,127.89 495.84,127.3 496.14,127.67 496.45,127.59 496.76,127.26 497.06,126.81 497.37,126.74 497.67,126.73 497.98,126.73 498.28,126.77 498.59,126.88 498.89,126.41 499.2,126.18 499.51,126.36 499.81,126.04 500.12,125.93 500.42,126.14 500.73,126.15 501.03,125.7 501.34,125.86 501.64,125.93 501.95,125.9 502.25,125.59 502.56,125.82 502.86,125.32 503.17,125.57 503.47,125.53 503.78,125.52 504.08,125.22 504.39,124.91 504.69,124.8 505,125.02 505.31,124.75 505.61,124.98 505.92,124.6 506.23,124.97 506.54,124.58 506.84,124.41 507.15,124.46 507.46,124.57 507.76,124.59 508.07,124.43 508.38,124.25 508.69,124.39 508.99,124.62 509.3,124.32 509.6,124.6 509.9,124.09 510.2,124.71 510.5,124.68 510.8,124.51 511.1,124.54 511.4,124.58 511.7,124.84 512,124.37 512.3,124.75 512.6,124.73 512.9,124.62 513.2,124.91 513.5,124.95 513.8,124.61 514.1,125.01 514.4,124.9 514.7,124.96 515,125.08 515.29,124.76 515.59,125.12 515.88,125.01 516.18,125.34 516.47,124.99 516.76,125.37 517.06,125.34 517.35,125.31 517.65,125.49 517.94,125.02 518.24,125.38 518.53,125.42 518.82,125.49 519.12,125.36 519.41,125.18 519.71,125.28 520,125.56 520.29,125.52 520.57,125.68 520.86,126.01 521.14,126.24 521.43,126.43 521.71,126.57 522,126.8 522.29,128.11 522.57,129.3 522.86,130.74 523.14,131.6 523.43,133.48 523.71,134.51 524,136.18 524.3,138.14 524.6,139.89 524.9,140.65 525.2,142.87 525.5,144.46 525.8,147.65 526.1,148.18 526.4,150.16 526.67,152.55 526.93,155.29 527.2,158 527.5,156 527.8,154 528.05,157.5 528.3,161 528.55,158.5 528.8,156 529.05,159.5 529.3,163 529.55,160 529.8,157 530.15,158.5 530.5,160 530.83,158.33 531.17,156.67 531.5,155 531.83,154.73 532.15,154.49 532.47,153.78 532.8,153.74 533.11,153.3 533.43,153.18 533.74,152.88 534.06,152.92 534.37,152.45 534.69,152.31 535,152.31 535.31,152.12 535.61,152.26 535.92,152.57 536.23,152.01 536.53,152.06 536.84,152.48 537.15,152.03 537.45,152.15 537.76,152.51 538.07,152.36 538.37,152.13 538.68,152.04 538.99,152.17 539.29,152.18 539.6,152.48 539.9,152.15 540.2,151.65 540.5,151.27 540.8,150.85 541.1,150.42 541.4,150 541.7,148.8 542,147.6 542.3,146.4 542.6,145.2 542.9,144 543.2,142.8 543.5,141.28 543.8,139.77 544.1,138.25 544.4,136.73 544.7,135.22 545,133.7 545.4,129 545.7,134 546,124 546.3,133 546.6,121 546.9,134 547.2,120 547.5,132 547.8,118.2 548.1,130 548.4,121 548.7,128 549,127.58 549.3,127.17 549.6,126.75 549.9,126.33 550.2,125.92 550.5,125.5 550.8,125.83 551.1,126.16 551.4,126.32 551.7,126.65 552,126.92 552.3,127.34 552.6,127.6 552.9,127.82 553.2,128.4 553.51,128.17 553.81,128.09 554.12,128.17 554.42,128.31 554.73,128.43 555.03,128.44 555.34,128.4 555.64,128.28 555.95,128.44 556.26,128.43 556.56,128.37 556.87,128.63 557.17,128.45 557.48,128.79 557.78,128.8 558.09,128.52 558.39,128.84 558.7,128.7 559.01,128.79 559.31,128.91 559.62,129.02 559.92,129.12 560.23,129.05 560.53,128.76 560.84,128.98 561.14,128.88 561.45,128.71 561.76,129.05 562.06,129.03 562.37,129.29 562.67,128.98 562.98,129.31 563.28,129.14 563.59,128.92 563.89,129.31 564.2,129.07 564.49,129.26 564.79,129.03 565.08,129.03 565.38,129.62 565.67,129.14 565.97,129.24 566.26,129.29 566.56,129.29 566.85,129.77 567.15,129.92 567.44,129.75 567.74,129.64 568.03,129.98 568.33,129.79 568.62,129.61 568.92,129.99 569.21,129.83 569.51,129.82 569.8,129.89 570.1,128.98 570.4,127.91 570.7,127.22 571,126.42 571.3,126.29 571.6,125.99 571.9,126.44 572.2,126.09 572.5,126.4 572.8,126.68 573.1,126.61 573.4,126.79 573.7,126.74 574,126.5 574.3,126.46 574.6,126.69 574.9,126.87 575.2,126.65 575.5,126.75 575.8,127.04 576.1,126.85 576.4,127.04 576.7,127.05 577,127.32 577.3,126.83 577.6,126.97 577.9,127.36 578.2,127.34 578.5,127.04 578.8,127.11 579.1,127.2 579.4,127.44 579.7,127.7 580,127.33 580.29,126.96 580.58,126.88 580.87,126.35 581.16,126.24 581.44,125.97 581.73,125.56 582.02,125.06 582.31,124.56 582.6,123.94 582.9,124.44 583.21,124.25 583.51,124.35 583.82,124.51 584.12,124.76 584.43,124.58 584.73,124.85 585.04,124.94 585.34,124.47 585.65,124.68 585.95,125.06 586.26,125.05 586.56,125.22 586.87,124.81 587.17,125.08 587.48,125.37 587.78,125.2 588.09,125.33 588.39,125.57 588.7,125.15 589,125.13 589.3,125.81 589.6,125.91 589.9,126.05 590.2,126.4 590.5,126.6 590.83,128.82 591.15,131.05 591.47,133.28 591.8,135.5 592.1,138.62 592.4,141.75 592.7,144.88 593,148 593.28,149.34 593.56,150.68 593.84,152.02 594.12,153.36 594.4,154.7 594.8,160 595.2,152 595.6,163.6 596,154 596.4,165 596.8,156 597.2,163 597.6,155 597.9,157.5 598.2,160 598.6,150 599,161 599.25,154 599.5,147 599.75,151.5 600,156 600.4,141 600.8,152 601.2,142 601.6,160 602,174 602.4,145 602.8,140 603.05,145.5 603.3,151 603.7,138 603.95,147 604.2,156 604.6,141 604.85,148.5 605.1,156 605.5,146 605.9,155 606.15,149 606.4,143 606.8,151 607.2,143 607.5,144.5 607.8,146 608.1,143.5 608.4,141 608.7,143 609,145 609.35,141.5 609.7,138 610,140.5 610.3,143 610.65,134 611,125 611.4,119 611.8,117.7 612.2,130 612.5,154.7 612.8,130 613.1,120 613.5,123 613.81,123.27 614.12,123.52 614.44,123.82 614.75,124.01 615.06,124.4 615.38,124.85 615.69,124.99 616,125.58 616.3,125.17 616.6,125.39 616.9,125.52 617.2,125.92 617.5,125.84 617.8,126.27 618.1,126.33 618.4,126.5 618.7,126.81 618.99,127.17 619.28,127.64 619.58,127.57 619.87,128.1 620.16,128.84 620.45,128.89 620.75,129.22 621.04,129.73 621.33,129.94 621.62,130.73 621.92,131 622.21,131.06 622.5,131.98 622.81,131.55 623.12,131.23 623.44,131.28 623.75,131.32 624.06,130.8 624.38,130.43 624.69,130.38 625,130.14 625.29,130.26 625.58,129.98 625.87,130.14 626.16,129.6 626.44,129.33 626.73,129.45 627.02,129.09 627.31,129.04 627.6,128.84 627.9,128.28 628.2,128.03 628.5,127.69 628.8,126.82 629.1,126.95 629.4,126.72 629.7,127.04 630,126.78 630.3,126.43 630.6,126.82 630.9,126.46 631.2,126.33 631.5,126.27 631.8,126.73 632.1,126.61 632.4,126.36 632.7,126.45 633,126.5 633.3,126.08 633.6,126.42 633.9,126.39 634.2,126.49 634.5,125.92 634.8,126.19 635.1,126.12 635.4,126.28 635.7,125.96 636,126.1 636.3,126.21 636.59,125.86 636.89,125.94 637.18,126.14 637.48,125.6 637.78,126.14 638.07,125.72 638.37,125.78 638.66,125.66 638.96,125.94 639.26,125.76 639.55,125.86 639.85,125.45 640.14,125.89 640.44,125.83 640.74,125.72 641.03,125.43 641.33,125.42 641.62,125.52 641.92,125.26 642.22,125.77 642.51,125.42 642.81,125.72 643.1,125.23 643.4,125.49 643.7,125.58 644,125.49 644.3,125.35 644.6,125.11 644.9,125.36 645.2,125.33 645.5,125.67 645.8,125.68 646.1,125.67 646.4,125.69 646.7,125.2 647,125.12 647.3,125.28 647.6,125.1 647.9,125.17 648.2,125.45 648.5,125.22 648.8,125.47 649.1,125.33 649.4,125.26 649.7,125.68 650,125.21 650.3,125.63 650.6,125.42 650.9,125.5 651.2,125.19 651.5,125.55 651.8,125.63 652.1,125.22 652.4,125.38 652.7,125.49 653,125.38 653.3,125.55 653.6,125.49 653.89,126.16 654.18,127.28 654.47,128.24 654.76,128.89 655.05,129.87 655.34,130.79 655.63,131.54 655.92,132.06 656.21,133.23 656.5,134.48 656.8,137.18 657.1,139.29 657.4,142.46 657.7,145.33 658,148.03 658.3,149.48 658.6,152.01 658.9,154.02 659.2,155.66 659.5,158.38 659.85,159.33 660.2,161 660.47,159.67 660.73,158.33 661,157 661.3,158.5 661.6,160 661.95,158 662.3,156 662.58,155.69 662.87,155.46 663.15,155.4 663.43,154.79 663.72,155.22 664,154.8 664.29,154.62 664.57,153.85 664.86,153.51 665.14,153.97 665.43,153.46 665.71,153.19 666,153.01 666.31,153.01 666.62,152.62 666.92,152.7 667.23,152.18 667.54,152.52 667.85,152.19 668.15,151.81 668.46,151.76 668.77,151.84 669.08,151.36 669.38,151.43 669.69,151.4 670,151.28 670.31,150.87 670.62,151.21 670.92,151.11 671.23,151.25 671.54,150.82 671.85,151.04 672.15,151.08 672.46,151.31 672.77,151.11 673.08,150.88 673.38,150.99 673.69,151.38 674,151.43 674.29,150.84 674.58,150.2 674.87,150.11 675.16,149.72 675.44,149.14 675.73,148.8 676.02,148.37 676.31,147.97 676.6,147.6 676.9,145.15 677.2,142.7 677.5,126.35 677.8,110 678.2,160 678.6,105 679,150 679.25,162.8 679.5,175.6 679.9,100 680.3,70 680.6,120 680.9,55 681.2,100 681.5,50 681.8,70 682,45.6 682.3,75 682.6,55 682.9,100 683.2,70 683.5,130 683.8,151 684.05,143 684.3,135 684.55,133.9 684.8,132.8 685.12,132.07 685.44,131.2 685.76,130.37 686.08,129.96 686.4,128.76 686.7,128.97 687,128.83 687.3,128.31 687.6,128.2 687.9,127.92 688.2,128.03 688.5,128.01 688.8,127.69 689.1,127.36 689.4,127.2 689.7,126.94 689.99,126.88 690.28,126.36 690.56,126.1 690.85,126.12 691.14,125.6 691.42,125.79 691.71,125.39 692,124.81 692.29,124.8 692.58,125.16 692.87,125.02 693.16,125.22 693.44,125.3 693.73,125.4 694.02,125.37 694.31,125.45 694.6,125.5 694.93,121.33 695.27,117.17 695.6,113 696,140 696.4,118 696.8,150 697.2,122 697.6,145 698,115 698.4,140 698.7,112 699,110 699.4,135 699.8,120 700.2,152 700.6,118 701,140 701.25,132.5 701.5,125 701.9,182 702.3,135 702.55,126.5 702.8,118 703.1,116.75 703.4,115.5 703.7,125.25 704,135 704.3,130.5 704.6,126 704.9,127.95 705.2,129.9 705.5,131.85 705.8,133.8 706.1,133.21 706.4,132.53 706.7,131.93 707,131.44 707.3,130.7 707.6,130.31 707.9,129.33 708.2,128.69 708.5,128.22 708.8,127.82 709.1,127.3 709.4,126.75 709.7,126.43 710,126.24 710.29,125.81 710.57,125.16 710.86,124.48 711.14,124.22 711.43,123.51 711.71,122.99 712,122.98 712.29,123.19 712.57,123.65 712.86,124.58 713.14,124.69 713.43,125.28 713.71,125.76 714,126.74 714.3,126.68 714.6,126.46 714.9,126.47 715.2,127.04 715.5,126.65 715.8,127.08 716.1,127.14 716.4,127.15 716.7,127.16 717,127.2 717.3,127.19 717.6,127.49 717.91,127.39 718.22,127.79 718.53,127.86 718.84,128.12 719.16,128.63 719.47,128.64 719.78,128.89 720.09,129.09 720.4,128.9 720.67,130.78 720.95,132.21 721.23,133.59 721.5,135 721.8,137.43 722.1,139.87 722.4,142.3 722.7,144.73 723,147.17 723.3,149.6 723.6,152.15 723.9,154.7 724.2,157.25 724.5,159.8 724.75,164.55 725,169.3 725.33,164.67 725.67,160.03 726,155.4 726.33,154.77 726.67,154.13 727,153.5 727.3,153.5 727.6,153.5 727.9,153.5 728.21,153.5 728.51,153.5 728.81,153.5 729.11,153.5 729.41,153.5 729.71,153.5 730.02,153.5 730.32,153.5 730.62,153.5 730.92,153.5 731.22,153.5 731.52,153.5 731.83,153.5 732.13,153.5 732.43,153.5 732.73,153.5 733.03,153.5 733.33,153.5 733.63,153.5 733.94,153.5 734.24,153.5 734.54,153.5 734.84,153.5 735.14,153.5 735.44,153.5 735.75,153.5 736.05,153.5 736.35,153.5 736.65,153.5 736.95,153.5 737.25,153.5 737.56,153.5 737.86,153.5 738.16,153.5 738.46,153.5 738.76,153.5 739.06,153.5 739.37,153.5 739.67,153.5 739.97,153.5 740.27,153.5 740.57,153.5 740.87,153.5 741.17,153.5 741.48,153.5 741.78,153.5 742.08,153.5 742.38,153.5 742.68,153.5 742.98,153.5 743.29,153.5 743.59,153.5 743.89,153.5 744.19,153.5 744.49,153.5 744.79,153.5 745.1,153.5 745.4,153.5 745.7,153.5 746,153.5" fill="none" stroke="#3a3af2" stroke-width="1.05" stroke-linejoin="round"/>
<polyline points="594,156.24 594.25,153.2 594.47,157.32 594.74,154.71 594.96,159.67 595.14,151.15 595.33,160.83 595.48,155.71 595.65,159.53 595.79,157.24 596.05,163.69 596.29,151.91 596.48,161.75 596.64,156.89 596.83,158.9 597.11,151.56 597.4,159.09 597.63,152.03 597.85,156.69 597.99,153.92 598.16,159.13 598.33,154.13 598.62,159.31 598.89,151.54 599.15,155.31 599.36,151.71 599.53,157.95 599.82,147.1 600.01,152.96 600.21,148.64 600.41,150.03 600.56,146.52 600.87,154.49 601.09,146.42 601.35,153.61 601.59,147.54 601.83,159.18 601.99,148.83 602.29,157.24 602.53,145.51 602.68,147.44 602.95,145.28 603.15,150.48 603.4,145.03 603.7,149.83 604.01,145.88 604.24,155.12 604.46,142.5 604.64,155.12 604.8,141.02 605.07,154.42 605.29,146.72 605.43,150.85 605.61,144.21 605.77,149.59 605.97,147.25 606.27,152.58 606.49,143.69 606.79,149.91 607.05,143.03 607.22,149.38 607.49,144.76 607.73,145.95 607.96,143.33 608.15,144.83 608.33,142.56 608.46,144.67 608.76,140.4 609,143.78 609.28,140.66 609.46,142.55 609.76,140.47 609.91,141.11" fill="none" stroke="#3a3af2" stroke-width="0.9" stroke-linejoin="round"/>
<polyline points="677.2,144.38 677.31,111.39 677.54,135.81 677.65,121.36 677.79,153.61 677.92,128.48 678.05,150.3 678.27,121.45 678.48,154.55 678.58,126.21 678.76,144.37 678.88,125 679.05,164.05 679.24,126.09 679.41,161.59 679.58,92.75 679.8,133.9 680,104.42 680.18,114.47 680.38,85.3 680.5,102.93 680.66,57.8 680.88,107.85 681.04,62.62 681.22,113.09 681.36,59.39 681.53,90 681.7,61.58 681.85,94.7 682.01,48.39 682.24,88.95 682.39,62.92 682.6,114.96 682.77,74.3 682.87,129.29 682.99,86.9 683.13,124.06 683.27,96.56 683.37,138.15 683.57,123.53 683.69,142.74 683.8,126.05 684,139.67" fill="none" stroke="#3a3af2" stroke-width="0.9" stroke-linejoin="round"/>
<polyline points="695.6,129.43 695.9,122.47 696.05,133.24 696.25,121.42 696.41,133.43 696.62,119.65 696.83,135.55 696.98,127.7 697.18,140.33 697.44,120.81 697.59,140.74 697.82,122.64 698.06,139.99 698.26,122.69 698.46,136.65 698.7,115.8 698.85,136.58 699.11,119.98 699.32,141.47 699.48,115.29 699.67,146.16 699.84,116.04 699.99,135.32 700.17,125.12 700.45,140.03 700.64,122.1 700.83,143.76 701.06,123.08 701.21,150.25 701.46,135.86 701.64,160.5 701.93,134.64 702.23,145.09 702.53,117.56 702.74,131.81 703.01,124.11 703.32,138.9 703.62,122.51 703.92,136.27 704.12,128.09 704.31,130.03 704.46,126.21" fill="none" stroke="#3a3af2" stroke-width="0.9" stroke-linejoin="round"/>
<path d="M52.7,192.7 V34.7 H367.5 V192.7" stroke="#555" stroke-width="1.3" fill="none"/>
<line x1="52.1" y1="192.9" x2="368.1" y2="192.9" stroke="#a8a8a8" stroke-width="1.7"/>
<path d="M448.5,31.85 V195.3 H763.5 V31.85" stroke="#555" stroke-width="1.3" fill="none"/>
<line x1="447.9" y1="32.45" x2="764.1" y2="32.45" stroke="#999" stroke-width="1.4"/>
<rect x="52.4" y="9.1" width="315.1" height="20.7" stroke="#555" stroke-width="1.3" fill="none"/>
<rect x="448.5" y="8.5" width="315" height="20.8" stroke="#555" stroke-width="1.3" fill="none"/>
<line x1="59.5" y1="18.3" x2="76.6" y2="18.3" stroke="#ff9c9c" stroke-width="1.2"/>
<line x1="283.9" y1="18.3" x2="300.9" y2="18.3" stroke="#4040ff" stroke-width="1.2"/>
<line x1="680.2" y1="18.2" x2="697" y2="18.2" stroke="#4040ff" stroke-width="1.2"/>
<text x="88.6" y="22.1" font-size="12" fill="#111" textLength="49.3" lengthAdjust="spacingAndGlyphs">Measured</text>
<text x="313.2" y="22.1" font-size="12" fill="#111" textLength="49.2" lengthAdjust="spacingAndGlyphs">Estimated</text>
<text x="709.3" y="22.0" font-size="12" fill="#111" textLength="49.2" lengthAdjust="spacingAndGlyphs">Estimated</text>
<line x1="97.7" y1="192.7" x2="97.7" y2="190.2" stroke="#555" stroke-width="0.8"/>
<line x1="97.7" y1="34.7" x2="97.7" y2="37.2" stroke="#555" stroke-width="0.8"/>
<line x1="142.7" y1="192.7" x2="142.7" y2="190.2" stroke="#555" stroke-width="0.8"/>
<line x1="142.7" y1="34.7" x2="142.7" y2="37.2" stroke="#555" stroke-width="0.8"/>
<line x1="187.7" y1="192.7" x2="187.7" y2="190.2" stroke="#555" stroke-width="0.8"/>
<line x1="187.7" y1="34.7" x2="187.7" y2="37.2" stroke="#555" stroke-width="0.8"/>
<line x1="232.7" y1="192.7" x2="232.7" y2="190.2" stroke="#555" stroke-width="0.8"/>
<line x1="232.7" y1="34.7" x2="232.7" y2="37.2" stroke="#555" stroke-width="0.8"/>
<line x1="277.7" y1="192.7" x2="277.7" y2="190.2" stroke="#555" stroke-width="0.8"/>
<line x1="277.7" y1="34.7" x2="277.7" y2="37.2" stroke="#555" stroke-width="0.8"/>
<line x1="322.7" y1="192.7" x2="322.7" y2="190.2" stroke="#555" stroke-width="0.8"/>
<line x1="322.7" y1="34.7" x2="322.7" y2="37.2" stroke="#555" stroke-width="0.8"/>
<line x1="52.7" y1="183.07" x2="55.2" y2="183.07" stroke="#555" stroke-width="0.8"/>
<line x1="367.5" y1="183.07" x2="365" y2="183.07" stroke="#555" stroke-width="0.8"/>
<line x1="52.7" y1="163.27" x2="55.2" y2="163.27" stroke="#555" stroke-width="0.8"/>
<line x1="367.5" y1="163.27" x2="365" y2="163.27" stroke="#555" stroke-width="0.8"/>
<line x1="52.7" y1="143.47" x2="55.2" y2="143.47" stroke="#555" stroke-width="0.8"/>
<line x1="367.5" y1="143.47" x2="365" y2="143.47" stroke="#555" stroke-width="0.8"/>
<line x1="52.7" y1="123.67" x2="55.2" y2="123.67" stroke="#555" stroke-width="0.8"/>
<line x1="367.5" y1="123.67" x2="365" y2="123.67" stroke="#555" stroke-width="0.8"/>
<line x1="52.7" y1="103.87" x2="55.2" y2="103.87" stroke="#555" stroke-width="0.8"/>
<line x1="367.5" y1="103.87" x2="365" y2="103.87" stroke="#555" stroke-width="0.8"/>
<line x1="52.7" y1="84.07" x2="55.2" y2="84.07" stroke="#555" stroke-width="0.8"/>
<line x1="367.5" y1="84.07" x2="365" y2="84.07" stroke="#555" stroke-width="0.8"/>
<line x1="52.7" y1="64.27" x2="55.2" y2="64.27" stroke="#555" stroke-width="0.8"/>
<line x1="367.5" y1="64.27" x2="365" y2="64.27" stroke="#555" stroke-width="0.8"/>
<line x1="52.7" y1="44.47" x2="55.2" y2="44.47" stroke="#555" stroke-width="0.8"/>
<line x1="367.5" y1="44.47" x2="365" y2="44.47" stroke="#555" stroke-width="0.8"/>
<line x1="493.5" y1="195.3" x2="493.5" y2="192.8" stroke="#555" stroke-width="0.8"/>
<line x1="493.5" y1="32.45" x2="493.5" y2="34.95" stroke="#555" stroke-width="0.8"/>
<line x1="538.5" y1="195.3" x2="538.5" y2="192.8" stroke="#555" stroke-width="0.8"/>
<line x1="538.5" y1="32.45" x2="538.5" y2="34.95" stroke="#555" stroke-width="0.8"/>
<line x1="583.5" y1="195.3" x2="583.5" y2="192.8" stroke="#555" stroke-width="0.8"/>
<line x1="583.5" y1="32.45" x2="583.5" y2="34.95" stroke="#555" stroke-width="0.8"/>
<line x1="628.5" y1="195.3" x2="628.5" y2="192.8" stroke="#555" stroke-width="0.8"/>
<line x1="628.5" y1="32.45" x2="628.5" y2="34.95" stroke="#555" stroke-width="0.8"/>
<line x1="673.5" y1="195.3" x2="673.5" y2="192.8" stroke="#555" stroke-width="0.8"/>
<line x1="673.5" y1="32.45" x2="673.5" y2="34.95" stroke="#555" stroke-width="0.8"/>
<line x1="718.5" y1="195.3" x2="718.5" y2="192.8" stroke="#555" stroke-width="0.8"/>
<line x1="718.5" y1="32.45" x2="718.5" y2="34.95" stroke="#555" stroke-width="0.8"/>
<line x1="448.5" y1="188.5" x2="451" y2="188.5" stroke="#555" stroke-width="0.8"/>
<line x1="763.5" y1="188.5" x2="761" y2="188.5" stroke="#555" stroke-width="0.8"/>
<line x1="448.5" y1="153.85" x2="451" y2="153.85" stroke="#555" stroke-width="0.8"/>
<line x1="763.5" y1="153.85" x2="761" y2="153.85" stroke="#555" stroke-width="0.8"/>
<line x1="448.5" y1="119.2" x2="451" y2="119.2" stroke="#555" stroke-width="0.8"/>
<line x1="763.5" y1="119.2" x2="761" y2="119.2" stroke="#555" stroke-width="0.8"/>
<line x1="448.5" y1="84.55" x2="451" y2="84.55" stroke="#555" stroke-width="0.8"/>
<line x1="763.5" y1="84.55" x2="761" y2="84.55" stroke="#555" stroke-width="0.8"/>
<line x1="448.5" y1="49.9" x2="451" y2="49.9" stroke="#555" stroke-width="0.8"/>
<line x1="763.5" y1="49.9" x2="761" y2="49.9" stroke="#555" stroke-width="0.8"/>
<g transform="translate(52.7,201.1) scale(1.42,1)"><text class="sf" x="0" y="0" font-size="7.9" fill="#4c4c4c" text-anchor="middle">0</text></g>
<g transform="translate(448.5,203.3) scale(1.42,1)"><text class="sf" x="0" y="0" font-size="7.9" fill="#4c4c4c" text-anchor="middle">0</text></g>
<g transform="translate(97.7,201.1) scale(1.42,1)"><text class="sf" x="0" y="0" font-size="7.9" fill="#4c4c4c" text-anchor="middle">5</text></g>
<g transform="translate(493.5,203.3) scale(1.42,1)"><text class="sf" x="0" y="0" font-size="7.9" fill="#4c4c4c" text-anchor="middle">5</text></g>
<g transform="translate(142.7,201.1) scale(1.42,1)"><text class="sf" x="0" y="0" font-size="7.9" fill="#4c4c4c" text-anchor="middle">10</text></g>
<g transform="translate(538.5,203.3) scale(1.42,1)"><text class="sf" x="0" y="0" font-size="7.9" fill="#4c4c4c" text-anchor="middle">10</text></g>
<g transform="translate(187.7,201.1) scale(1.42,1)"><text class="sf" x="0" y="0" font-size="7.9" fill="#4c4c4c" text-anchor="middle">15</text></g>
<g transform="translate(583.5,203.3) scale(1.42,1)"><text class="sf" x="0" y="0" font-size="7.9" fill="#4c4c4c" text-anchor="middle">15</text></g>
<g transform="translate(232.7,201.1) scale(1.42,1)"><text class="sf" x="0" y="0" font-size="7.9" fill="#4c4c4c" text-anchor="middle">20</text></g>
<g transform="translate(628.5,203.3) scale(1.42,1)"><text class="sf" x="0" y="0" font-size="7.9" fill="#4c4c4c" text-anchor="middle">20</text></g>
<g transform="translate(277.7,201.1) scale(1.42,1)"><text class="sf" x="0" y="0" font-size="7.9" fill="#4c4c4c" text-anchor="middle">25</text></g>
<g transform="translate(673.5,203.3) scale(1.42,1)"><text class="sf" x="0" y="0" font-size="7.9" fill="#4c4c4c" text-anchor="middle">25</text></g>
<g transform="translate(322.7,201.1) scale(1.42,1)"><text class="sf" x="0" y="0" font-size="7.9" fill="#4c4c4c" text-anchor="middle">30</text></g>
<g transform="translate(718.5,203.3) scale(1.42,1)"><text class="sf" x="0" y="0" font-size="7.9" fill="#4c4c4c" text-anchor="middle">30</text></g>
<g transform="translate(367.7,201.1) scale(1.42,1)"><text class="sf" x="0" y="0" font-size="7.9" fill="#4c4c4c" text-anchor="middle">35</text></g>
<g transform="translate(763.5,203.3) scale(1.42,1)"><text class="sf" x="0" y="0" font-size="7.9" fill="#4c4c4c" text-anchor="middle">35</text></g>
<g transform="translate(49.6,185.17) scale(1.55,1)"><text class="sf" x="0" y="0" font-size="7.9" fill="#4c4c4c" text-anchor="end">0.0</text></g>
<g transform="translate(49.6,165.37) scale(1.55,1)"><text class="sf" x="0" y="0" font-size="7.9" fill="#4c4c4c" text-anchor="end">0.2</text></g>
<g transform="translate(49.6,145.57) scale(1.55,1)"><text class="sf" x="0" y="0" font-size="7.9" fill="#4c4c4c" text-anchor="end">0.4</text></g>
<g transform="translate(49.6,125.77) scale(1.55,1)"><text class="sf" x="0" y="0" font-size="7.9" fill="#4c4c4c" text-anchor="end">0.6</text></g>
<g transform="translate(49.6,105.97) scale(1.55,1)"><text class="sf" x="0" y="0" font-size="7.9" fill="#4c4c4c" text-anchor="end">0.8</text></g>
<g transform="translate(49.6,86.17) scale(1.55,1)"><text class="sf" x="0" y="0" font-size="7.9" fill="#4c4c4c" text-anchor="end">1.0</text></g>
<g transform="translate(49.6,66.37) scale(1.55,1)"><text class="sf" x="0" y="0" font-size="7.9" fill="#4c4c4c" text-anchor="end">1.2</text></g>
<g transform="translate(49.6,46.57) scale(1.55,1)"><text class="sf" x="0" y="0" font-size="7.9" fill="#4c4c4c" text-anchor="end">1.4</text></g>
<g transform="translate(445.5,190.6) scale(1.55,1)"><text class="sf" x="0" y="0" font-size="7.9" fill="#4c4c4c" text-anchor="end">−0.1</text></g>
<g transform="translate(445.5,155.95) scale(1.55,1)"><text class="sf" x="0" y="0" font-size="7.9" fill="#4c4c4c" text-anchor="end">0.0</text></g>
<g transform="translate(445.5,121.3) scale(1.55,1)"><text class="sf" x="0" y="0" font-size="7.9" fill="#4c4c4c" text-anchor="end">0.1</text></g>
<g transform="translate(445.5,86.65) scale(1.55,1)"><text class="sf" x="0" y="0" font-size="7.9" fill="#4c4c4c" text-anchor="end">0.2</text></g>
<g transform="translate(445.5,52) scale(1.55,1)"><text class="sf" x="0" y="0" font-size="7.9" fill="#4c4c4c" text-anchor="end">0.3</text></g>
<text x="183.4" y="224.6" font-size="14.8" fill="#111" textLength="34" lengthAdjust="spacingAndGlyphs">Time</text>
<text class="sf" x="224.6" y="226.1" font-size="18.5" fill="#333" text-anchor="middle">[</text>
<text class="sf" x="227.6" y="224.6" font-size="15" fill="#111" font-style="italic" font-weight="bold" textLength="6.4" lengthAdjust="spacingAndGlyphs">s</text>
<text class="sf" x="236.9" y="226.1" font-size="18.5" fill="#333" text-anchor="middle">]</text>
<text x="579.7" y="224.6" font-size="14.8" fill="#111" textLength="34" lengthAdjust="spacingAndGlyphs">Time</text>
<text class="sf" x="620.9" y="226.1" font-size="18.5" fill="#333" text-anchor="middle">[</text>
<text class="sf" x="623.9" y="224.6" font-size="15" fill="#111" font-style="italic" font-weight="bold" textLength="6.4" lengthAdjust="spacingAndGlyphs">s</text>
<text class="sf" x="633.2" y="226.1" font-size="18.5" fill="#333" text-anchor="middle">]</text>
<g transform="translate(22.3,197.8) rotate(-90)">
<text x="-0.9" y="0" font-size="13.4" fill="#111" textLength="123.2" lengthAdjust="spacingAndGlyphs">Longitudinal velocity</text>
<text class="sf" x="129" y="1.0" font-size="15.5" fill="#222" text-anchor="middle">(</text>
<text class="sf" x="136.3" y="0" font-size="14" font-weight="bold" fill="#111" text-anchor="middle">v</text>
<text class="sf" x="142.3" y="2.6" font-size="9.5" fill="#111" text-anchor="middle">x</text>
<text class="sf" x="147.9" y="1.0" font-size="15.5" fill="#222" text-anchor="middle">)</text>
<text class="sf" x="155.2" y="0.6" font-size="19" fill="#333" text-anchor="middle">[</text>
<text class="sf" x="162.9" y="0" font-size="14.5" font-weight="bold" font-style="italic" fill="#111" text-anchor="middle">m</text>
<text class="sf" x="173" y="0" font-size="14.5" font-weight="bold" font-style="italic" fill="#111" text-anchor="middle">/</text>
<text class="sf" x="181.4" y="0" font-size="14.5" font-weight="bold" font-style="italic" fill="#111" text-anchor="middle">s</text>
<text class="sf" x="188.2" y="0.6" font-size="19" fill="#333" text-anchor="middle">]</text>
</g>
<g transform="translate(417.6,180.6) rotate(-90)">
<text x="-0.9" y="0" font-size="13.4" fill="#111" textLength="89.6" lengthAdjust="spacingAndGlyphs">Lateral velocity</text>
<text class="sf" x="96" y="1.0" font-size="15.5" fill="#222" text-anchor="middle">(</text>
<text class="sf" x="101.9" y="0" font-size="14" font-weight="bold" fill="#111" text-anchor="middle">v</text>
<text class="sf" x="107.4" y="2.6" font-size="9.5" fill="#111" text-anchor="middle">y</text>
<text class="sf" x="112.8" y="1.0" font-size="15.5" fill="#222" text-anchor="middle">)</text>
<text class="sf" x="123.6" y="0.6" font-size="19" fill="#333" text-anchor="middle">[</text>
<text class="sf" x="131" y="0" font-size="14.5" font-weight="bold" font-style="italic" fill="#111" text-anchor="middle">m</text>
<text class="sf" x="141" y="0" font-size="14.5" font-weight="bold" font-style="italic" fill="#111" text-anchor="middle">/</text>
<text class="sf" x="148.3" y="0" font-size="14.5" font-weight="bold" font-style="italic" fill="#111" text-anchor="middle">s</text>
<text class="sf" x="157.4" y="0.6" font-size="19" fill="#333" text-anchor="middle">]</text>
</g>
<text class="sf" x="7" y="261.6" font-size="18.4" fill="#000" textLength="20.2" lengthAdjust="spacingAndGlyphs">(<tspan font-weight="bold">a</tspan>)</text>
<text class="sf" x="33.6" y="261.6" font-size="18.4" fill="#000" textLength="177.2" lengthAdjust="spacingAndGlyphs">Longitudinal velocity</text>
<text class="sf" x="402.3" y="261.6" font-size="18.4" fill="#000" textLength="22.5" lengthAdjust="spacingAndGlyphs">(<tspan font-weight="bold">b</tspan>)</text>
<text class="sf" x="431.8" y="261.6" font-size="18.4" fill="#000" textLength="125.8" lengthAdjust="spacingAndGlyphs">Lateral velocity</text>
</svg></body></html>
